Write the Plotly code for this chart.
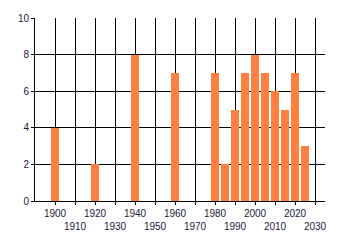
import plotly.graph_objects as go

years = [1900, 1920, 1940, 1960, 1980, 1985, 1990, 1995, 2000, 2005, 2010, 2015, 2020, 2025]
counts = [4, 2, 8, 7, 7, 2, 5, 7, 8, 7, 6, 5, 7, 3]
tick_years = list(range(1900, 2031, 10))
tick_labels = [str(y) if i % 2 == 0 else "<br>" + str(y) for i, y in enumerate(tick_years)]

text_color = "#1a1a40"

fig = go.Figure(go.Bar(x=years, y=counts, width=4, marker=dict(color="#FF7F3F", line=dict(width=0))))

fig.update_layout(
    width=340, height=245,
    margin=dict(l=35, r=15, t=15, b=44),
    paper_bgcolor="white", plot_bgcolor="white",
    showlegend=False,
    font=dict(family="Liberation Sans, Arial, sans-serif", size=10, color=text_color),
    bargap=0,
)
fig.update_xaxes(
    range=[1890, 2035], tickmode="array", tickvals=tick_years, ticktext=tick_labels,
    showgrid=True, gridcolor="black", gridwidth=1,
    showline=True, linecolor="black", linewidth=1,
    ticks="outside", ticklen=3, tickcolor="black", tickangle=0,
    zeroline=False,
)
fig.update_yaxes(
    range=[0, 10], dtick=2, tick0=0,
    showgrid=True, gridcolor="black", gridwidth=1,
    showline=True, linecolor="black", linewidth=1,
    ticks="outside", ticklen=3, tickcolor="black",
    zeroline=False,
)
fig.write_html("out.html")
